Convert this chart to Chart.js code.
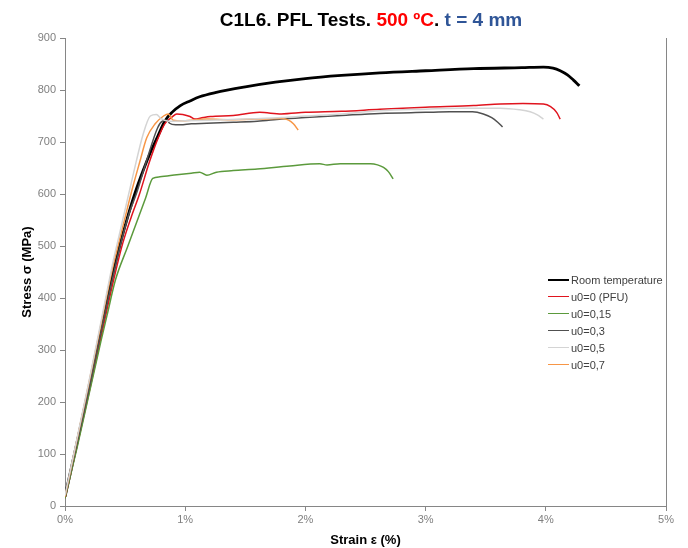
<!DOCTYPE html>
<html>
<head>
    <meta charset="utf-8">
    <script src="https://cdn.jsdelivr.net/npm/chart.js@4.4.1/dist/chart.umd.min.js"></script>
    <style>
        body { margin: 0; background: #fff; font-family: "Liberation Sans", Arial, sans-serif; }
        #wrap { position: relative; width: 688px; height: 548px; }
        #title {
            position: absolute; left: 0; top: 9px; width: 742px; text-align: center;
            font-weight: bold; font-size: 19px; color: #000;
        }
        #title .hot { color: #ff0000; }
        #title .thk { color: #2f5597; }
        #legend { position: absolute; left: 548px; top: 271px; font-size: 11px; color: #404040; }
        .legend-item { display: flex; align-items: center; height: 17px; }
        .legend-line { width: 21px; margin-right: 2px; }
    </style>
</head>
<body>
    <div id="wrap">
        <canvas id="stressChart" width="688" height="548"></canvas>
        <div id="title">C1L6. PFL Tests. <span class="hot">500 ºC</span>. <span class="thk">t = 4 mm</span></div>
        <div id="legend"></div>
    </div>

    <script>
        // [strain %, stress MPa]
        const roomTemp = [[0,18],[0.1,122],[0.2,228],[0.3,340],[0.4,448],[0.46,505],[0.52,555],[0.58,600],[0.65,645],[0.72,685],[0.77,710],[0.83,740],[0.89,757],[0.96,770],[1.04,779],[1.12,787],[1.25,795],[1.5,806],[1.75,815],[2.0,822],[2.3,828],[2.62,833],[3.0,837],[3.4,841],[3.8,843],[3.98,844],[4.06,842],[4.12,837],[4.18,829],[4.23,819],[4.28,808]];
        const u0_0 = [[0,15],[0.1,115],[0.2,218],[0.3,325],[0.4,430],[0.48,505],[0.55,555],[0.62,600],[0.7,660],[0.77,705],[0.83,735],[0.89,748],[0.93,754],[0.98,753],[1.04,749],[1.08,744],[1.15,747],[1.21,749],[1.4,751],[1.62,757],[1.8,754],[2.0,757],[2.3,759],[2.62,763],[3.0,767],[3.4,770],[3.62,773],[3.81,774],[3.98,773],[4.04,768],[4.09,757],[4.12,744]];
        const u0_015 = [[0,15],[0.1,112],[0.2,215],[0.3,318],[0.35,367],[0.42,435],[0.52,498],[0.6,548],[0.67,592],[0.73,630],[0.79,633],[0.93,637],[1.05,640],[1.12,642],[1.18,636],[1.26,642],[1.4,645],[1.6,648],[1.87,654],[2.12,658],[2.18,656],[2.29,658],[2.54,658],[2.6,656],[2.65,651],[2.69,643],[2.73,629]];
        const u0_03 = [[0,18],[0.1,120],[0.2,225],[0.3,335],[0.4,442],[0.47,510],[0.53,560],[0.6,605],[0.68,665],[0.77,727],[0.81,740],[0.85,742],[0.87,736],[0.92,733],[0.96,733],[1.05,735],[1.18,736],[1.4,738],[1.6,740],[1.8,744],[2.0,747],[2.3,751],[2.62,755],[3.0,757],[3.2,758],[3.39,758],[3.48,754],[3.55,747],[3.6,738],[3.64,729]];
        const u0_05 = [[0,20],[0.1,130],[0.2,240],[0.3,355],[0.4,470],[0.45,520],[0.5,570],[0.57,640],[0.65,715],[0.71,750],[0.76,753],[0.8,745],[0.86,740],[1.0,741],[1.2,742],[1.5,744],[1.8,747],[2.0,750],[2.3,754],[2.62,760],[3.0,763],[3.3,765],[3.62,765],[3.78,762],[3.87,758],[3.93,752],[3.98,744]];
        const u0_07 = [[0,18],[0.1,128],[0.2,238],[0.3,350],[0.4,462],[0.43,490],[0.5,555],[0.56,610],[0.62,660],[0.68,708],[0.75,735],[0.82,750],[0.86,754],[0.9,742],[0.98,741],[1.18,744],[1.4,743],[1.6,744],[1.8,745],[1.86,742],[1.9,735],[1.94,723]];

        const seriesNames = ["Room temperature", "u0=0 (PFU)", "u0=0,15", "u0=0,3", "u0=0,5", "u0=0,7"];
        const seriesData = [roomTemp, u0_0, u0_015, u0_03, u0_05, u0_07];
        const seriesColors = ["#000000", "#e0141e", "#5b9a3c", "#505050", "#d4d4d4", "#f79646"];
        const seriesWidths = [2.8, 1.5, 1.5, 1.5, 1.5, 1.5];

        const xTicks = [0, 1, 2, 3, 4, 5];

        // draw from back to front like the original (light curves behind)
        const drawOrder = [4, 5, 3, 2, 1, 0];

        const datasets = drawOrder.map(i => ({
            label: seriesNames[i],
            data: seriesData[i].map(p => ({ x: p[0], y: p[1] })),
            borderColor: seriesColors[i],
            borderWidth: seriesWidths[i],
            showLine: true,
            pointRadius: 0,
            cubicInterpolationMode: 'monotone',
            fill: false
        }));

        const rightBorder = {
            id: 'rightBorder',
            afterDraw(chart) {
                const { ctx, chartArea } = chart;
                ctx.save();
                ctx.strokeStyle = '#868686';
                ctx.lineWidth = 1;
                ctx.beginPath();
                ctx.moveTo(Math.round(chartArea.right) + 0.5, chartArea.top);
                ctx.lineTo(Math.round(chartArea.right) + 0.5, chartArea.bottom);
                ctx.stroke();
                ctx.restore();
            }
        };

        const ctx = document.getElementById('stressChart').getContext('2d');
        const stressChart = new Chart(ctx, {
            type: 'scatter',
            data: { datasets: datasets },
            options: {
                responsive: false,
                animation: false,
                layout: { padding: { left: 0, top: 38, right: 22, bottom: 0 } },
                plugins: {
                    legend: { display: false },
                    tooltip: { enabled: false }
                },
                scales: {
                    x: {
                        type: 'linear',
                        min: 0,
                        max: 5,
                        afterFit: s => { s.height = 42; },
                        afterBuildTicks: s => { s.ticks = xTicks.map(v => ({ value: v })); },
                        grid: { drawOnChartArea: false, tickLength: 5, color: '#868686' },
                        border: { color: '#868686', width: 1 },
                        ticks: {
                            padding: 2,
                            color: '#7f7f7f',
                            font: { family: 'Liberation Sans, Arial', size: 11 },
                            callback: v => v + '%'
                        },
                        title: {
                            display: true,
                            text: 'Strain ε (%)',
                            color: '#000',
                            padding: { top: 2, bottom: 0 },
                            font: { family: 'Liberation Sans, Arial', size: 13, weight: 'bold' }
                        }
                    },
                    y: {
                        min: 0,
                        max: 900,
                        afterFit: s => { s.width = 65; },
                        grid: { drawOnChartArea: false, tickLength: 5, color: '#868686' },
                        border: { color: '#868686', width: 1 },
                        ticks: {
                            stepSize: 100,
                            padding: 4,
                            color: '#7f7f7f',
                            font: { family: 'Liberation Sans, Arial', size: 11 }
                        },
                        title: {
                            display: true,
                            text: 'Stress σ (MPa)',
                            color: '#000',
                            padding: { top: 20, bottom: 0 },
                            font: { family: 'Liberation Sans, Arial', size: 13, weight: 'bold' }
                        }
                    }
                }
            },
            plugins: [rightBorder]
        });

        function populateLegend() {
            const legendContainer = document.getElementById('legend');
            seriesNames.forEach((name, i) => {
                const item = document.createElement('div');
                item.className = 'legend-item';
                const line = document.createElement('div');
                line.className = 'legend-line';
                line.style.borderTop = seriesWidths[i] + 'px solid ' + seriesColors[i];
                const label = document.createElement('span');
                label.innerText = name;
                item.appendChild(line);
                item.appendChild(label);
                legendContainer.appendChild(item);
            });
        }

        populateLegend();
    </script>
</body>
</html>
